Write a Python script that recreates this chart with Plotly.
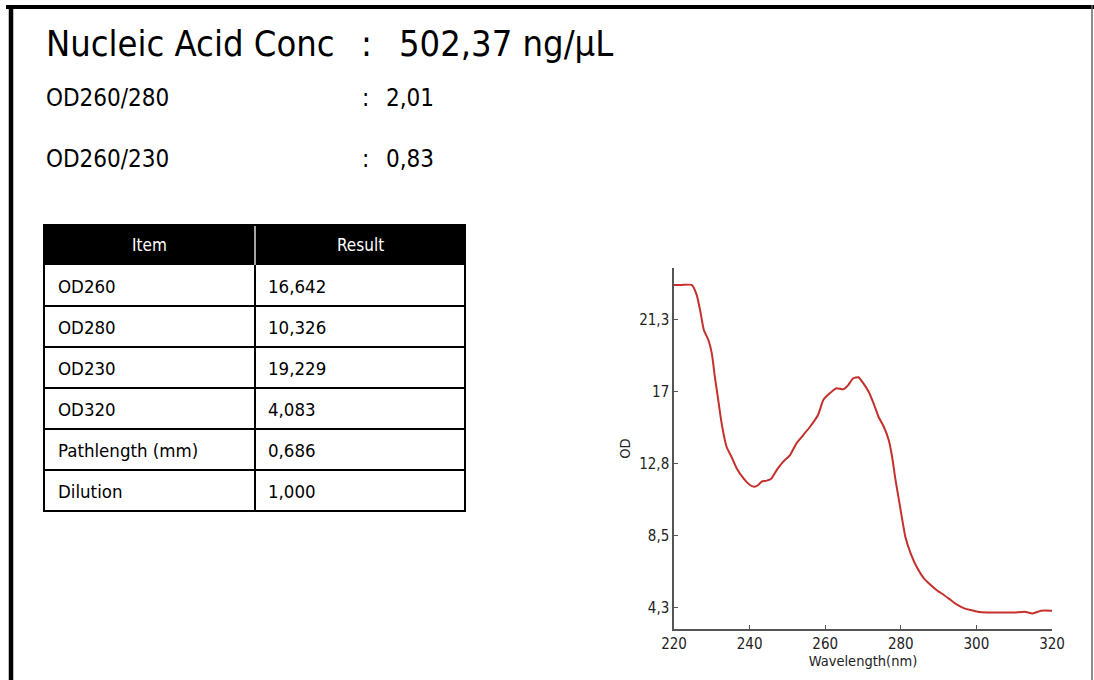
import plotly.graph_objects as go

W, H = 1094, 680

# ---------------- data ----------------
wavelength = [220, 222, 224.7, 226, 226.9, 227.9, 229.1, 230, 230.8, 231.7, 232.6, 233.9,
              235.2, 236.6, 238.4, 240.1, 241.4, 242.3, 243.2, 244.5, 245.8, 247.2, 248.9,
              250.7, 252.4, 254.2, 256, 258.1, 259.5, 261.2, 263, 264.8, 266.1, 267.4,
              268.8, 270.1, 271.5, 272.8, 274.1, 275.5, 276.8, 277.7, 278.6, 279.5, 280.4,
              281.2, 282.6, 284.4, 286.1, 287.9, 289.7, 291.4, 293.2, 295, 296.8, 298.5,
              300.3, 302.9, 306.5, 310, 312.7, 314.9, 317.1, 320]
od_values = [23.28, 23.28, 23.28, 22.69, 21.8, 20.62, 20.03, 19.24, 17.87, 16.49, 15.11, 13.73,
             13.14, 12.45, 11.86, 11.47, 11.37, 11.47, 11.67, 11.73, 11.86, 12.36, 12.85,
             13.24, 13.93, 14.42, 14.91, 15.6, 16.49, 16.88, 17.18, 17.12, 17.37, 17.77,
             17.83, 17.47, 16.98, 16.29, 15.5, 14.91, 14.13, 13.14, 11.77, 10.59, 9.4,
             8.42, 7.44, 6.55, 5.96, 5.57, 5.23, 4.98, 4.68, 4.39, 4.19, 4.09,
             3.99, 3.94, 3.94, 3.94, 3.99, 3.89, 4.05, 4.05]

x_ticks = [220, 240, 260, 280, 300, 320]
y_tickvals = [4.25, 8.5, 12.75, 17, 21.25]
y_ticktext = ["4,3", "8,5", "12,8", "17", "21,3"]

table_header = ["Item", "Result"]
table_items = ["OD260", "OD280", "OD230", "OD320", "Pathlength (mm)", "Dilution"]
table_results = ["16,642", "10,326", "19,229", "4,083", "0,686", "1,000"]

title_label = "Nucleic Acid Conc"
title_value = "502,37 ng/μL"
ratio_labels = ["OD260/280", "OD260/230"]
ratio_values = ["2,01", "0,83"]

FONT = "DejaVu Sans Condensed, DejaVu Sans, Verdana, sans-serif"


def px_x(p):
    return p / W


def px_y(p):
    return 1 - p / H


fig = go.Figure()

fig.add_trace(go.Scatter(
    x=wavelength, y=od_values, mode="lines",
    line=dict(color="#c4302b", width=2, shape="spline", smoothing=0.5),
    showlegend=False, hoverinfo="skip",
))

annotations = []
shapes = []


def text(x, y, s, size, color="black", anchor="left"):
    annotations.append(dict(x=px_x(x), y=px_y(y), xref="paper", yref="paper",
                            text=s, showarrow=False, xanchor=anchor, yanchor="middle",
                            font=dict(size=size, color=color, family=FONT)))


# ---- header texts ----
text(44, 44, title_label, 36)
text(366, 44, ":", 36, anchor="center")
text(397, 44, title_value, 36)
for i, (lab, val) in enumerate(zip(ratio_labels, ratio_values)):
    yc = 98 + i * 61
    text(44, yc, lab, 24)
    text(365, yc, ":", 24, anchor="center")
    text(384, yc, val, 24)

# ---- table ----
T_L, T_R, T_MID = 44, 465, 255
T_TOP, HEAD_H, ROW_H = 225, 40, 41
n_rows = len(table_items)
T_BOT = T_TOP + HEAD_H + ROW_H * n_rows

shapes.append(dict(type="rect", xref="paper", yref="paper",
                   x0=px_x(T_L), x1=px_x(T_R), y0=px_y(T_TOP), y1=px_y(T_TOP + HEAD_H),
                   fillcolor="black", line=dict(width=0), layer="below"))
shapes.append(dict(type="line", xref="paper", yref="paper",
                   x0=px_x(T_MID), x1=px_x(T_MID), y0=px_y(T_TOP), y1=px_y(T_TOP + HEAD_H),
                   line=dict(color="#dddddd", width=1.5)))
shapes.append(dict(type="line", xref="paper", yref="paper",
                   x0=px_x(T_MID), x1=px_x(T_MID), y0=px_y(T_TOP + HEAD_H), y1=px_y(T_BOT),
                   line=dict(color="black", width=2)))
for i in range(1, n_rows):
    yy = T_TOP + HEAD_H + ROW_H * i
    shapes.append(dict(type="line", xref="paper", yref="paper",
                       x0=px_x(T_L), x1=px_x(T_R), y0=px_y(yy), y1=px_y(yy),
                       line=dict(color="black", width=2)))
shapes.append(dict(type="rect", xref="paper", yref="paper",
                   x0=px_x(T_L), x1=px_x(T_R), y0=px_y(T_TOP), y1=px_y(T_BOT),
                   line=dict(color="black", width=2)))

text((T_L + T_MID) / 2, T_TOP + HEAD_H / 2, table_header[0], 17, color="white", anchor="center")
text((T_MID + T_R) / 2, T_TOP + HEAD_H / 2, table_header[1], 17, color="white", anchor="center")
for i, (it, rv) in enumerate(zip(table_items, table_results)):
    yc = T_TOP + HEAD_H + ROW_H * i + ROW_H / 2 + 1
    text(56, yc, it, 18.5)
    text(266, yc, rv, 18.5)

# ---- page frame ----
shapes += [
    dict(type="line", xref="paper", yref="paper", x0=px_x(6), x1=1, y0=px_y(7), y1=px_y(7),
         line=dict(color="black", width=4)),
    dict(type="line", xref="paper", yref="paper", x0=px_x(11), x1=px_x(11), y0=px_y(5), y1=0,
         line=dict(color="black", width=4.5)),
    dict(type="line", xref="paper", yref="paper", x0=px_x(1092), x1=px_x(1092), y0=px_y(5), y1=0,
         line=dict(color="#666666", width=1.5)),
]

fig.update_layout(
    width=W, height=H,
    margin=dict(l=0, r=0, t=0, b=0, autoexpand=False),
    paper_bgcolor="white", plot_bgcolor="white",
    annotations=annotations, shapes=shapes,
    font=dict(family=FONT, color="#222222"),
    xaxis=dict(
        domain=[px_x(674), px_x(1052)],
        range=[220, 320], tickvals=x_ticks,
        showgrid=False, zeroline=False,
        showline=True, linecolor="#555555", linewidth=1.5,
        ticks="inside", ticklen=4, tickcolor="#555555", tickwidth=1,
        tickfont=dict(size=15, color="#222222", family=FONT),
        title=dict(text="Wavelength(nm)", font=dict(size=14.5, color="#222222", family=FONT), standoff=4),
        automargin=False,
    ),
    yaxis=dict(
        domain=[px_y(629), px_y(268)],
        range=[2.97, 24.28], tickvals=y_tickvals, ticktext=y_ticktext,
        showgrid=False, zeroline=False,
        showline=True, linecolor="#555555", linewidth=1.5,
        ticks="inside", ticklen=4, tickcolor="#555555", tickwidth=1,
        tickfont=dict(size=15, color="#222222", family=FONT),
        title=dict(text="OD", font=dict(size=14.5, color="#222222", family=FONT), standoff=5),
        automargin=False,
    ),
)

fig.write_html("out.html")
